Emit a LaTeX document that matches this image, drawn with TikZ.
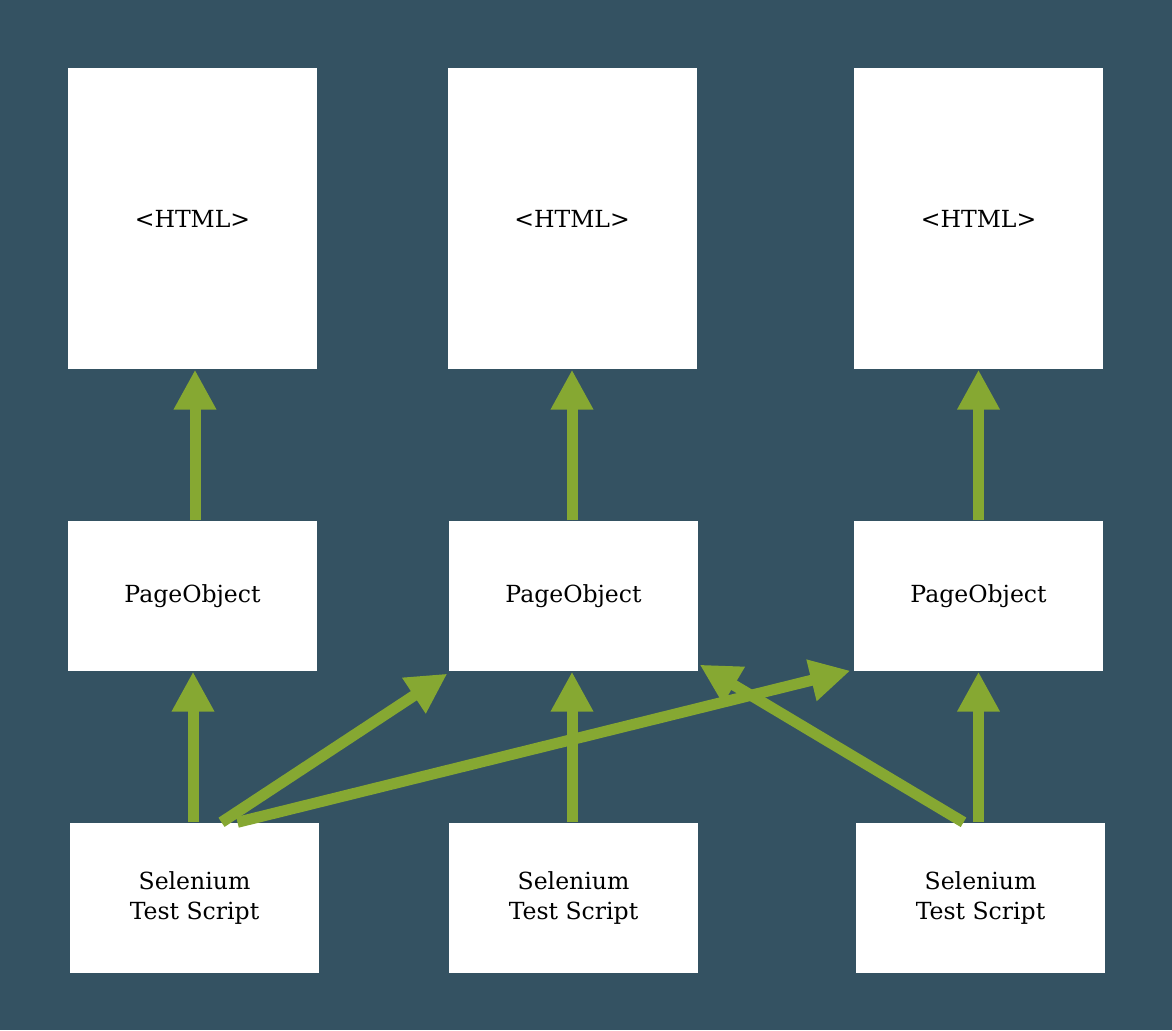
\documentclass[tikz,border=0pt]{standalone}
\usepackage{fontspec}
\setmainfont{DejaVu Serif}
\usetikzlibrary{arrows.meta}
\usetikzlibrary{positioning}
\definecolor{slate}{RGB}{52,82,98}
\definecolor{leaf}{RGB}{134,168,50}

\begin{document}
\begin{tikzpicture}[->,>={Triangle[length=0.4cm,width=0.4cm]},on grid,
	box/.style={fill=white,minimum width=2.49cm,minimum height=1.5cm,inner sep=0pt,align=center,font=\fontsize{6.7}{8.4}\selectfont},
	page/.style={box,minimum height=3.01cm},
	link/.style={draw=leaf,fill=leaf,line width=0.11cm}]
	\fill[slate] (0,0) rectangle (11.72,10.30);
	\useasboundingbox (0,0) rectangle (11.72,10.30);

	\node[box] (S1) at (1.945,1.32) {Selenium\\Test Script};
	\node[box] (S2) [right=3.79cm of S1] {Selenium\\Test Script};
	\node[box] (S3) [right=4.07cm of S2] {Selenium\\Test Script};

	\node[box] (P1) at (1.925,4.34) {PageObject};
	\node[box] (P2) [right=3.81cm of P1] {PageObject};
	\node[box] (P3) [right=4.05cm of P2] {PageObject};

	\node[page] (H1) at (1.925,8.115) {<HTML>};
	\node[page] (H2) [right=3.795cm of H1] {<HTML>};
	\node[page] (H3) [right=4.065cm of H2] {<HTML>};

	\draw[link] ([xshift=0.025cm]P1.north) -- ([xshift=0.025cm]H1.south);
	\draw[link] (P2.north -| H2) -- (H2.south);
	\draw[link] (P3.north) -- (H3.south);

	\draw[link] ([xshift=-0.015cm]S1.north) -- ([xshift=-0.015cm]S1.north |- P1.south);
	\draw[link] (S2.north -| H2) -- (H2 |- P2.south);
	\draw[link] ([xshift=-0.02cm]S3.north) -- ([xshift=-0.02cm]S3.north |- P3.south);

	\draw[link] ([xshift=0.27cm]S1.north) -- ([xshift=-0.01cm,yshift=-0.02cm]P2.south west);
	\draw[link] ([xshift=0.43cm]S1.north) -- ([xshift=-0.03cm,yshift=0.01cm]P3.south west);
	\draw[link] ([xshift=-0.17cm]S3.north) -- ([xshift=0.01cm,yshift=0.07cm]P2.south east);

\end{tikzpicture}
\end{document}
